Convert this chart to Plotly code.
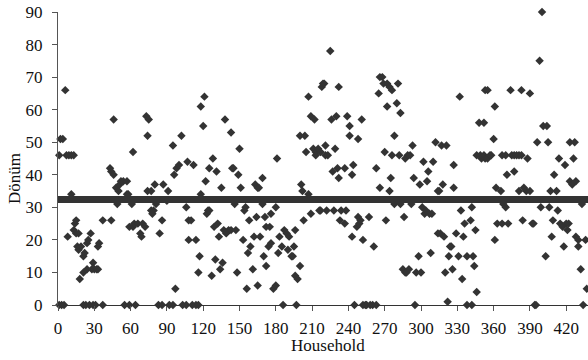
import plotly.graph_objects as go

# Household index (grouped by segment)
household = (
    [1, 3, 5, 1, 2, 4, 6, 7, 9, 11, 13, 8, 11, 13, 14, 15, 15, 16, 17, 17, 18, 19, 21, 21, 22, 24, 24, 25, 27,
     29, 28, 30, 32, 33, 33, 34, 37, 21, 23, 26, 29, 31, 37]
    + [43, 44, 46, 46, 44, 48, 49, 50, 51, 52, 54, 57, 57, 58, 61, 59, 62, 63, 66, 68, 69, 70, 72, 74, 62, 73,
       75, 74, 55, 59, 64]
    + [77, 80, 81, 79, 78, 77, 86, 84, 87, 91, 90, 95, 97, 98, 100, 96, 102, 106, 107, 108, 108, 83, 86, 92,
       95, 103, 106]
    + [111, 114, 116, 112, 110, 114, 117, 116, 118, 121, 120, 122, 118, 123, 124, 125, 125, 128, 129, 132, 131,
       127, 130, 134, 136, 133, 135, 137, 139, 141, 143, 138, 143, 144, 145, 147, 148, 149, 150, 151, 146, 153,
       154, 155, 156, 157, 158, 159]
    + [161, 162, 163, 165, 166, 164, 165, 167, 169, 169, 170, 171, 172, 172, 175, 174, 176, 176, 178, 180, 180,
       181, 183, 182, 185, 186, 187, 189, 191, 190, 193, 194, 195, 196, 196, 198, 197, 200, 200, 204, 201, 202,
       203, 205, 207, 207, 209, 212, 209, 211, 213, 215, 213, 216, 218]
    + [219, 220, 217, 221, 221, 223, 222, 217, 228, 225, 226, 227, 229, 230, 231, 232, 232, 233, 237, 234, 238,
       237, 239, 241, 241, 243, 243, 244, 247, 249, 250, 248, 248, 251, 252, 257, 261, 263, 265, 266, 266, 268,
       269, 270, 245, 252, 254, 255, 258, 260, 263]
    + [271, 272, 272, 274, 276, 274, 275, 276, 278, 278, 283, 280, 281, 282, 283, 286, 285, 287, 288, 290, 287,
       289, 291, 292, 293, 294, 296, 300, 298, 299, 301, 302, 303, 304, 305, 306, 307, 309, 308, 310, 312, 314,
       315, 314, 316, 317, 321, 318, 319, 320, 322, 323, 324, 325, 326, 327, 327, 329, 295]
    + [331, 332, 333, 334, 335, 336, 338, 341, 342, 343, 344, 345, 346, 346, 349, 350, 352, 353, 355, 357, 358,
       348, 352, 353, 355, 360, 361, 361, 362, 366, 363, 367, 372, 367, 370, 368, 370, 371, 374, 375, 377, 379,
       381, 383, 377, 381, 383, 384, 385, 387, 390, 388, 390, 338, 342]
    + [392, 393, 396, 398, 399, 400, 401, 404, 403, 405, 406, 407, 408, 409, 410, 412, 413, 414, 415, 417, 418,
       419, 420, 422, 421, 423, 427, 423, 425, 428, 426, 428, 430, 430, 432, 433, 436, 437, 394, 395, 434]
)

# Land size in dönüm for each household above
donum = (
    [0, 0, 0, 46, 51, 51, 66, 46, 46, 46, 46, 21, 34, 23, 25, 26, 22, 18, 17, 22, 8, 18, 10, 15, 16, 11, 19, 20,
     22, 13, 11, 11, 11, 11, 18, 19, 26, 0, 0, 0, 0, 0, 0]
    + [42, 41, 40, 57, 26, 36, 31, 35, 37, 38, 38, 38, 34, 34, 31, 24, 24, 25, 25, 22, 21, 25, 24, 35, 47, 58,
       57, 52, 0, 0, 0]
    + [29, 37, 31, 29, 28, 35, 26, 22, 37, 35, 32, 49, 5, 42, 43, 40, 52, 30, 44, 20, 26, 0, 0, 0, 0, 0, 0]
    + [0, 0, 0, 43, 26, 20, 15, 10, 61, 64, 55, 38, 34, 28, 29, 29, 42, 45, 24, 25, 41, 9, 14, 11, 13, 21, 36,
       23, 22, 23, 23, 57, 53, 42, 42, 23, 10, 40, 48, 36, 31, 20, 29, 30, 5, 16, 26, 18]
    + [11, 21, 37, 36, 36, 27, 6, 21, 39, 31, 15, 27, 12, 24, 24, 18, 19, 28, 5, 6, 30, 45, 21, 16, 18, 0, 23,
       22, 21, 17, 15, 15, 18, 23, 9, 8, 0, 12, 52, 52, 37, 35, 26, 47, 34, 64, 58, 57, 28, 48, 47, 48, 46, 29, 67]
    + [68, 68, 47, 49, 46, 46, 29, 29, 29, 78, 57, 41, 48, 58, 42, 39, 67, 26, 25, 29, 29, 42, 58, 55, 52, 40,
       21, 43, 24, 25, 26, 51, 27, 57, 20, 27, 18, 42, 65, 36, 70, 70, 68, 47, 0, 0, 0, 0, 0, 0, 0]
    + [26, 61, 68, 67, 66, 35, 39, 46, 52, 31, 31, 62, 68, 46, 59, 27, 11, 10, 10, 11, 45, 46, 46, 31, 49, 39,
       10, 10, 15, 37, 30, 44, 28, 29, 38, 41, 28, 28, 16, 44, 50, 35, 35, 22, 22, 49, 49, 37, 21, 10, 1, 15, 18,
       18, 11, 43, 36, 22, 0]
    + [15, 64, 29, 8, 21, 25, 15, 26, 30, 15, 12, 23, 4, 46, 46, 45, 46, 45, 45, 46, 46, 56, 56, 66, 66, 51, 20,
       61, 36, 35, 25, 25, 25, 46, 46, 31, 30, 40, 66, 46, 46, 46, 46, 46, 41, 35, 66, 26, 36, 35, 35, 45, 65, 0, 0]
    + [25, 25, 50, 75, 30, 90, 55, 55, 15, 50, 30, 35, 21, 26, 40, 35, 29, 45, 25, 24, 18, 43, 25, 25, 23, 50,
       50, 38, 37, 38, 45, 21, 20, 18, 11, 31, 20, 5, 0, 0, 0]
)

average_donum = 32.4
x_extent = [0, 438]
x_ticks = [0, 30, 60, 90, 120, 150, 180, 210, 240, 270, 300, 330, 360, 390, 420]
y_ticks = [0, 10, 20, 30, 40, 50, 60, 70, 80, 90]

FONT = "Liberation Serif"
INK = "#333333"

fig = go.Figure()
fig.add_trace(go.Scatter(
    x=household, y=donum, mode="markers",
    marker=dict(symbol="diamond", size=6.5, color=INK, line=dict(width=0)),
    cliponaxis=False, showlegend=False, hoverinfo="x+y",
))
fig.add_trace(go.Scatter(
    x=x_extent, y=[average_donum, average_donum], mode="lines",
    line=dict(color=INK, width=7), showlegend=False, hoverinfo="skip",
))

fig.update_layout(
    width=588, height=360,
    margin=dict(l=58, r=0, t=12, b=55),
    paper_bgcolor="white", plot_bgcolor="white",
    font=dict(family=FONT, size=17, color="#111111"),
    xaxis=dict(range=x_extent, tickvals=x_ticks, ticks="outside", ticklen=5, tickcolor="#555555",
               showline=True, linecolor="#333333", linewidth=1.2, showgrid=False, zeroline=False,
               ticklabelstandoff=2, tickfont=dict(family=FONT, size=17)),
    yaxis=dict(range=[0, 90], tickvals=y_ticks, ticks="outside", ticklen=5, tickcolor="#555555",
               showline=True, linecolor="#555555", linewidth=1.2, showgrid=False, zeroline=False,
               ticklabelstandoff=6, tickfont=dict(family=FONT, size=17)),
    annotations=[
        dict(text="Household", xref="paper", yref="paper", x=0.51, y=0, yshift=-40,
             xanchor="center", yanchor="middle", showarrow=False, font=dict(family=FONT, size=17)),
        dict(text="Dönüm", xref="paper", yref="paper", x=0, xshift=-44, y=0.43,
             xanchor="center", yanchor="middle", textangle=-90, showarrow=False,
             font=dict(family=FONT, size=17)),
    ],
)

fig.write_html("out.html", config={"displayModeBar": False},
               post_script="document.body.style.margin='0';")
